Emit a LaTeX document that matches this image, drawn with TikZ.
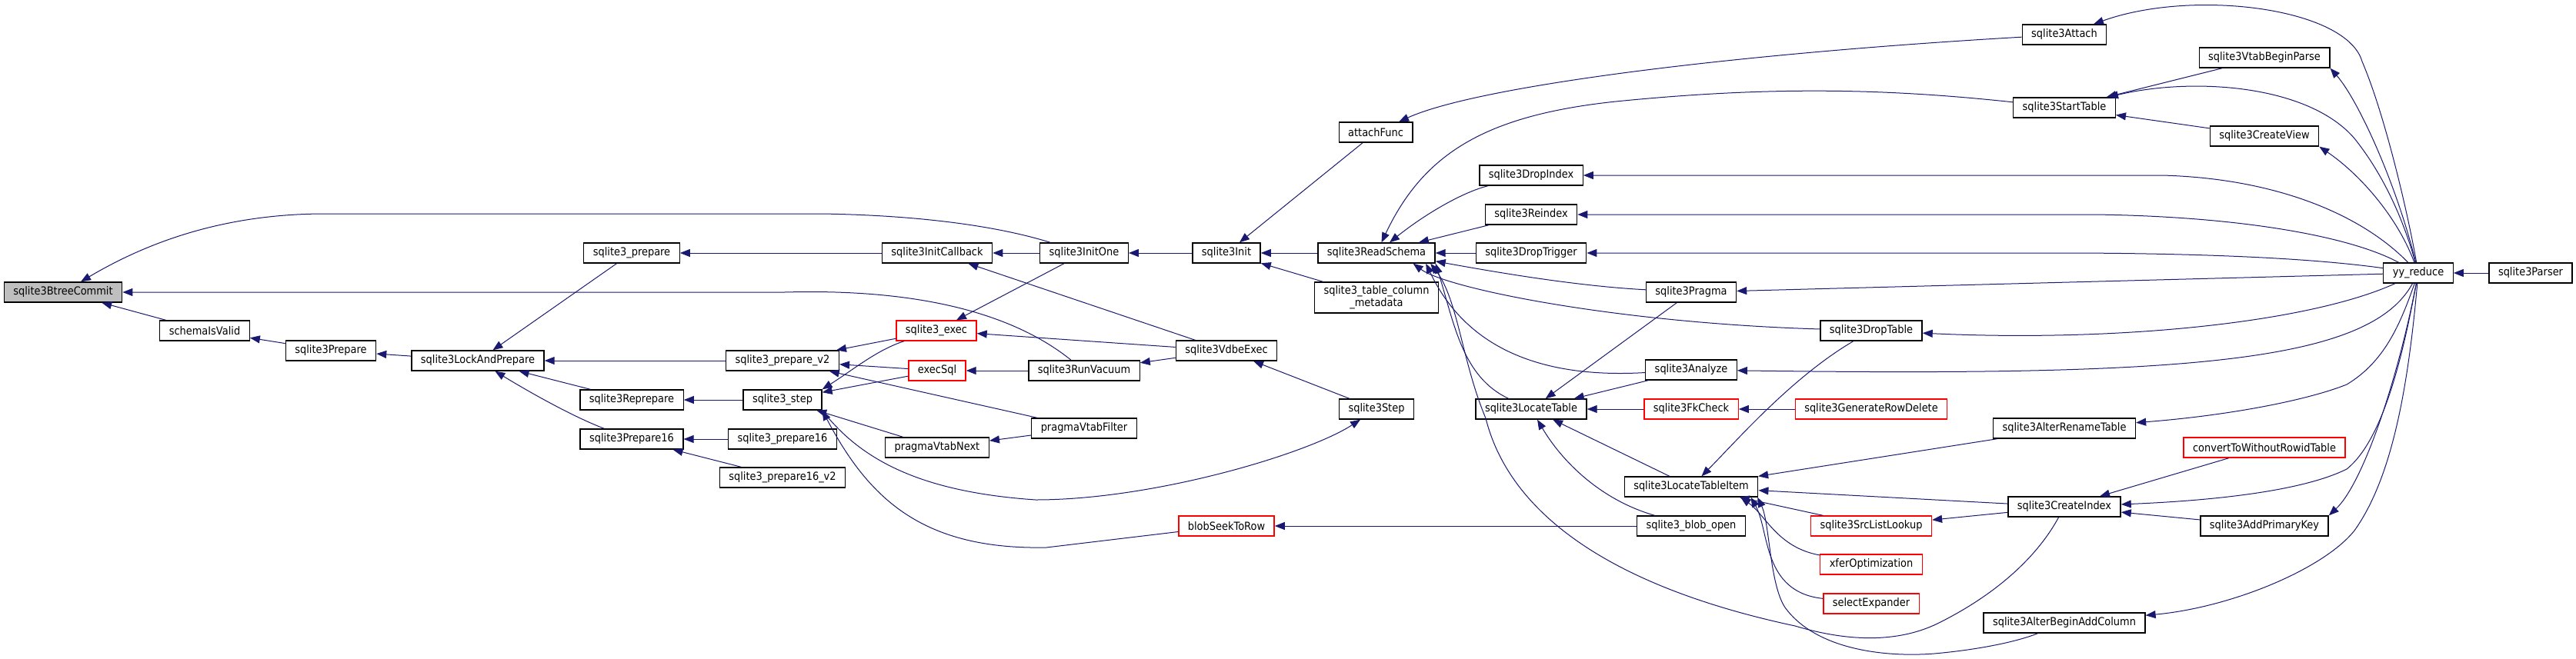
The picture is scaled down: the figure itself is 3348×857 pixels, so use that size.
\documentclass[tikz,border=0pt]{standalone}
\usepackage{fontspec}
\setmainfont{DejaVu Sans}[FakeStretch=0.9]
\usetikzlibrary{arrows.meta}
\definecolor{EdgeClr}{rgb}{0.098,0.098,0.439}
\definecolor{CutClr}{RGB}{255,0,0}
\definecolor{RootClr}{RGB}{191,191,191}

\begin{document}
\begin{tikzpicture}[x=0.5pt,y=-0.5pt,
  fn/.style={draw=black,line width=0.65pt,fill=white,minimum height=13pt,inner xsep=6pt,inner ysep=0pt,font=\fontsize{7.2}{7.8}\selectfont},
  cut/.style={fn,draw=CutClr},
  root/.style={fn,fill=RootClr},
  edge/.style={draw=EdgeClr,line width=0.5pt,{Triangle[length=6.5pt,width=5pt]}-}]
\useasboundingbox (0,0) rectangle (3348,857);

\node[root] (btc) at (82,380) {sqlite3BtreeCommit};
\node[fn] (siv) at (266,430) {schemaIsValid};
\node[fn] (prep) at (430,456) {sqlite3Prepare};
\node[fn] (lap) at (621,469) {sqlite3LockAndPrepare};
\node[fn] (p) at (821,329) {sqlite3\_prepare};
\node[fn] (rep) at (821,520) {sqlite3Reprepare};
\node[fn] (p16) at (821,571) {sqlite3Prepare16};
\node[fn] (pv2) at (1017,469) {sqlite3\_prepare\_v2};
\node[fn] (step) at (1017,520) {sqlite3\_step};
\node[fn] (p16a) at (1017,571) {sqlite3\_prepare16};
\node[fn] (p16v2) at (1017,621) {sqlite3\_prepare16\_v2};
\node[fn] (icb) at (1218,329) {sqlite3InitCallback};
\node[cut] (exec) at (1217,430) {sqlite3\_exec};
\node[cut] (esql) at (1218,482) {execSql};
\node[fn] (pvn) at (1218,582) {pragmaVtabNext};
\node[fn] (ione) at (1409,329) {sqlite3InitOne};
\node[fn] (vac) at (1409,482) {sqlite3RunVacuum};
\node[fn] (pvf) at (1409,557) {pragmaVtabFilter};
\node[fn] (init) at (1594,329) {sqlite3Init};
\node[fn] (vdbe) at (1594,456) {sqlite3VdbeExec};
\node[cut] (bstr) at (1594,684) {blobSeekToRow};
\node[fn] (afn) at (1788,172) {attachFunc};
\node[fn] (rs) at (1789,329) {sqlite3ReadSchema};
\node[fn,minimum height=20pt,align=center] (tcm) at (1789,387) {sqlite3\_table\_column\\\_metadata};
\node[fn] (vstep) at (1789,532) {sqlite3Step};
\node[fn] (dix) at (1990,228) {sqlite3DropIndex};
\node[fn] (rix) at (1990,279) {sqlite3Reindex};
\node[fn] (dtr) at (1990,329) {sqlite3DropTrigger};
\node[fn] (lt) at (1990,532) {sqlite3LocateTable};
\node[fn] (prg) at (2198,380) {sqlite3Pragma};
\node[fn] (ana) at (2198,481) {sqlite3Analyze};
\node[cut] (fk) at (2198,532) {sqlite3FkCheck};
\node[fn] (lti) at (2198,633) {sqlite3LocateTableItem};
\node[fn] (blob) at (2198,684) {sqlite3\_blob\_open};
\node[fn] (dtab) at (2432,430) {sqlite3DropTable};
\node[cut] (grd) at (2432,532) {sqlite3GenerateRowDelete};
\node[cut] (sll) at (2432,684) {sqlite3SrcListLookup};
\node[cut] (xfer) at (2432,734) {xferOptimization};
\node[cut] (sel) at (2432,785) {selectExpander};
\node[fn] (att) at (2683,45) {sqlite3Attach};
\node[fn] (stt) at (2683,140) {sqlite3StartTable};
\node[fn] (art) at (2683,557) {sqlite3AlterRenameTable};
\node[fn] (cix) at (2683,659) {sqlite3CreateIndex};
\node[fn] (abac) at (2683,810) {sqlite3AlterBeginAddColumn};
\node[fn] (vbp) at (2943,75) {sqlite3VtabBeginParse};
\node[fn] (cv) at (2943,177) {sqlite3CreateView};
\node[cut] (cwr) at (2943,582) {convertToWithoutRowidTable};
\node[fn] (apk) at (2943,684) {sqlite3AddPrimaryKey};
\node[fn] (yy) at (3143,355) {yy\_reduce};
\node[fn] (par) at (3289,355) {sqlite3Parser};

\draw[edge] (btc) -- (siv);
\draw[edge] (siv) -- (prep);
\draw[edge] (prep) -- (lap);
\draw[edge] (btc) .. controls (200,310) and (300,278) .. (423,278) -- (1067,278) .. controls (1200,280) and (1300,295) .. (ione);
\draw[edge] (btc) -- (1020,380) .. controls (1200,375) and (1320,410) .. (vac);
\draw[edge] (lap) -- (p);
\draw[edge] (lap) -- (pv2);
\draw[edge] (lap) -- (rep);
\draw[edge] (lap) .. controls (680,505) and (740,540) .. (p16);
\draw[edge] (p) -- (icb);
\draw[edge] (icb) -- (ione);
\draw[edge] (ione) -- (init);
\draw[edge] (init) -- (rs);
\draw[edge] (init) -- (afn);
\draw[edge] (init) -- (tcm);
\draw[edge] (rep) -- (step);
\draw[edge] (p16) -- (p16a);
\draw[edge] (p16) -- (p16v2);
\draw[edge] (pv2) -- (exec);
\draw[edge] (pv2) -- (esql);
\draw[edge] (pv2) -- (pvf);
\draw[edge] (step.north east) .. controls (1110,480) and (1140,455) .. (exec);
\draw[edge] (step) -- (esql);
\draw[edge] (step) -- (pvn);
\draw[edge] (step.south east) .. controls (1130,650) and (1200,715) .. (1360,712) -- (bstr);
\draw[edge] (vstep) .. controls (1700,590) and (1500,650) .. (1346,650) .. controls (1200,640) and (1120,600) .. (step.south east);
\draw[edge] (vdbe) -- (vstep);
\draw[edge] (exec) -- (vdbe);
\draw[edge] (vac) -- (vdbe);
\draw[edge] (esql) -- (vac);
\draw[edge] (icb) -- (vdbe);
\draw[edge] (exec) -- (ione);
\draw[edge] (pvn) -- (pvf);

\draw[edge] (afn) .. controls (1920,112) and (2250,70) .. (att);
\draw[edge] (rs) .. controls (1850,200) and (1930,150) .. (2100,132) .. controls (2300,112) and (2450,115) .. (stt);
\draw[edge] (att) .. controls (2850,-15) and (3050,10) .. (3070,80) .. controls (3100,150) and (3130,280) .. (yy);
\draw[edge] (stt) -- (vbp);
\draw[edge] (stt) .. controls (2850,100) and (3000,110) .. (3060,180) .. controls (3100,230) and (3125,290) .. (yy);
\draw[edge] (stt) -- (cv);
\draw[edge] (vbp.south east) .. controls (3065,130) and (3115,240) .. (yy);
\draw[edge] (cv.south east) .. controls (3065,225) and (3115,280) .. (yy);
\draw[edge] (dix) -- (2810,228) .. controls (2960,232) and (3070,280) .. (yy);
\draw[edge] (rix) -- (2720,279) .. controls (2900,281) and (3050,305) .. (yy);
\draw[edge] (dtr) -- (2700,329) .. controls (2900,330) and (3020,338) .. (yy);
\draw[edge] (prg) -- (yy);
\draw[edge] (dtab) .. controls (2750,445) and (3000,420) .. (yy);
\draw[edge] (ana) .. controls (2850,490) and (3080,470) .. (yy);
\draw[edge] (art) .. controls (2900,540) and (3000,520) .. (3050,500) .. controls (3100,470) and (3120,420) .. (yy);
\draw[edge] (cix) .. controls (2900,650) and (3000,635) .. (3050,610) .. controls (3100,570) and (3125,450) .. (yy);
\draw[edge] (apk.north east) .. controls (3070,630) and (3115,500) .. (yy);
\draw[edge] (abac) .. controls (2900,790) and (3020,740) .. (3060,690) .. controls (3110,620) and (3130,500) .. (yy);
\draw[edge] (yy) -- (par);

\draw[edge] (rs) .. controls (1850,280) and (1900,250) .. (dix);
\draw[edge] (rs) -- (rix);
\draw[edge] (rs) -- (dtr);
\draw[edge] (rs.-8) .. controls (1950,355) and (2050,372) .. (prg);
\draw[edge] (rs.-16) .. controls (1880,375) and (2100,420) .. (dtab);
\draw[edge] (rs.-12) .. controls (1890,420) and (1960,495) .. (ana);
\draw[edge] (rs.-10) .. controls (1890,420) and (1900,490) .. (lt);
\draw[edge] (rs.-11) .. controls (1895,390) and (1900,470) .. (1931,544) .. controls (1960,660) and (2080,760) .. (2333,814) .. controls (2420,840) and (2480,830) .. (2520,810) .. controls (2600,770) and (2650,720) .. (cix);
\draw[edge] (lti.-9) .. controls (2300,680) and (2300,760) .. (2320,790) .. controls (2360,845) and (2450,855) .. (2514,850) .. controls (2570,845) and (2620,835) .. (abac);
\draw[edge] (lti.-10) .. controls (2300,690) and (2290,770) .. (sel);
\draw[edge] (lti.-12) .. controls (2295,670) and (2310,712) .. (xfer);
\draw[edge] (lti) -- (sll);
\draw[edge] (sll) -- (cix);
\draw[edge] (lti) -- (cix);
\draw[edge] (lti) -- (art);
\draw[edge] (lti) .. controls (2260,570) and (2330,490) .. (dtab);
\draw[edge] (lt) -- (prg);
\draw[edge] (lt) -- (ana);
\draw[edge] (lt) -- (fk);
\draw[edge] (fk) -- (grd);
\draw[edge] (lt) -- (lti);
\draw[edge] (lt) .. controls (2030,600) and (2080,650) .. (blob);
\draw[edge] (bstr) -- (blob);
\draw[edge] (cix) -- (cwr);
\draw[edge] (cix) -- (apk);

\end{tikzpicture}
\end{document}
